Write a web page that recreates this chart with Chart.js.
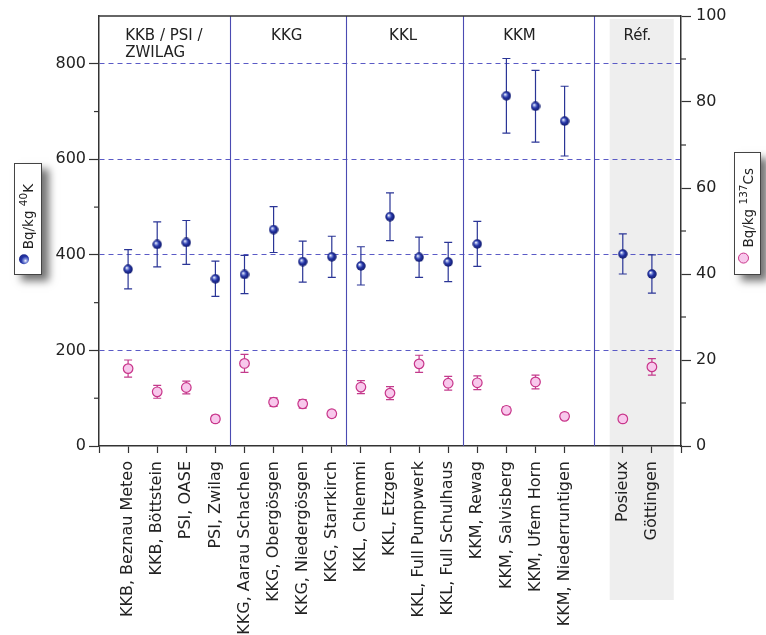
<!DOCTYPE html>
<html>
<head>
<meta charset="utf-8">
<script src="https://cdn.jsdelivr.net/npm/chart.js@4.4.1/dist/chart.umd.min.js"></script>
<style>
  html, body { margin: 0; padding: 0; background: #fff; }
  #wrap { position: relative; width: 766px; height: 635px; overflow: hidden; }
  #chart { position: absolute; left: 0; top: 0; }
  .key {
    position: absolute; background: #fff; border: 1px solid #444; box-sizing: border-box;
    box-shadow: 7px 6px 8px rgba(0,0,0,0.55);
    font-family: "DejaVu Sans", sans-serif; font-size: 13.5px; color: #222;
  }
  .key .t {
    position: absolute; left: 0; bottom: 10px; width: 100%; line-height: 26px;
    writing-mode: vertical-rl; transform: rotate(180deg); white-space: nowrap;
  }
  .key sup { font-size: 10.5px; vertical-align: super; line-height: 0; }
  .ball { display: inline-block; width: 10px; height: 10px; border-radius: 50%; vertical-align: middle;
    margin-inline-end: 5px;
    background: radial-gradient(circle at 35% 35%, #fff 0, #8a9ae0 18%, #2636a8 45%, #101a70 100%); }
  .ring { display: inline-block; width: 11px; height: 11px; border-radius: 50%; vertical-align: middle;
    margin-inline-end: 5px; box-sizing: border-box; background: #f8c8ec; border: 1.3px solid #c8358a; }
</style>
</head>
<body>
<div id="wrap">
  <canvas id="chart" width="766" height="635"></canvas>
  <div class="key" style="left:14px;top:163px;width:28px;height:112px;">
    <div class="t"><span class="ball"></span>Bq/kg <sup>40</sup>K</div>
  </div>
  <div class="key" style="left:734px;top:152px;width:27px;height:123px;">
    <div class="t"><span class="ring"></span>Bq/kg <sup>137</sup>Cs</div>
  </div>
</div>
<script>
// sampling sites, x position on the axis (17 left empty as gap before the reference sites)
const sites = [
  "KKB, Beznau Meteo", "KKB, Böttstein", "PSI, OASE", "PSI, Zwilag",
  "KKG, Aarau Schachen", "KKG, Obergösgen", "KKG, Niedergösgen", "KKG, Starrkirch",
  "KKL, Chlemmi", "KKL, Etzgen", "KKL, Full Pumpwerk", "KKL, Full Schulhaus",
  "KKM, Rewag", "KKM, Salvisberg", "KKM, Ufem Horn", "KKM, Niederruntigen",
  "Posieux", "Göttingen"
];
const sitePos = [1, 2, 3, 4, 5, 6, 7, 8, 9, 10, 11, 12, 13, 14, 15, 16, 18, 19];

// 40K, Bq/kg (left axis)
const k40 =    [370, 422, 426, 350, 359, 453, 386, 396, 377, 480, 395, 385, 423, 733, 711, 680, 402, 360];
const k40Err = [ 41,  47,  46,  37,  40,  48,  43,  43,  40,  50,  42,  41,  47,  78,  75,  73,  42,  40];

// 137Cs, Bq/kg (right axis)
const cs137 =    [18.0, 12.6, 13.6, 6.3, 19.2, 10.2, 9.8, 7.5, 13.7, 12.3, 19.1, 14.6, 14.7, 8.3, 14.9, 6.9, 6.3, 18.4];
const cs137Err = [ 2.0,  1.5,  1.5, 0.8,  2.1,  1.0, 1.0, 0.8,  1.5,  1.5,  2.0,  1.6,  1.6, 0.8,  1.6, 0.7, 0.7,  1.9];

// axes
const xTicks = [0, 1, 2, 3, 4, 5, 6, 7, 8, 9, 10, 11, 12, 13, 14, 15, 16, 18, 19, 20];
const k40Ticks = [0, 200, 400, 600, 800];
const k40Minor = [100, 300, 500, 700];
const csTicks = [0, 20, 40, 60, 80, 100];
const csMinor = [10, 30, 50, 70, 90];

// groups along the top
const groupNames = [["KKB / PSI /", "ZWILAG"], ["KKG"], ["KKL"], ["KKM"], ["Réf."]];
const groupAt = [0.9, 6.45, 10.45, 14.45, 18.5];
const dividers = [4.5, 8.5, 12.5, 17];
const refBand = [17.55, 19.75];

const FONT = "DejaVu Sans";
const labelFor = {};
sitePos.forEach((p, i) => labelFor[p] = sites[i]);

// shaded blue ball used as point style
function makeBall(d) {
  const c = document.createElement("canvas");
  c.width = d; c.height = d;
  const g = c.getContext("2d");
  const r = d / 2;
  const grad = g.createRadialGradient(r * 0.7, r * 0.7, 0.3, r, r, r);
  grad.addColorStop(0, "#ffffff");
  grad.addColorStop(0.22, "#8494dc");
  grad.addColorStop(0.5, "#2535a6");
  grad.addColorStop(1, "#0e1766");
  g.fillStyle = grad;
  g.beginPath(); g.arc(r, r, r - 0.3, 0, Math.PI * 2); g.fill();
  return c;
}

const decor = {
  id: "decor",
  beforeDraw(chart) {
    const { ctx, chartArea: a, scales: { x } } = chart;
    ctx.save();
    ctx.fillStyle = "#eeeeee";
    const x1 = x.getPixelForValue(refBand[0]), x2 = x.getPixelForValue(refBand[1]);
    ctx.fillRect(x1, a.top + 3, x2 - x1, 600 - a.top - 3);
    ctx.restore();
  },
  beforeDatasetsDraw(chart) {
    const { ctx, chartArea: a, scales: { x, y, y2 } } = chart;
    ctx.save();
    // group dividers
    ctx.strokeStyle = "#4b4bb2";
    ctx.lineWidth = 1.1;
    dividers.forEach(d => {
      const px = Math.round(x.getPixelForValue(d)) + 0.5;
      ctx.beginPath(); ctx.moveTo(px, a.top); ctx.lineTo(px, a.bottom); ctx.stroke();
    });
    // error bars
    const bars = (vals, errs, scale, color) => {
      ctx.strokeStyle = color;
      ctx.lineWidth = 1.2;
      vals.forEach((v, i) => {
        const px = x.getPixelForValue(sitePos[i]);
        const top = scale.getPixelForValue(v + errs[i]);
        const bot = scale.getPixelForValue(v - errs[i]);
        ctx.beginPath();
        ctx.moveTo(px, top); ctx.lineTo(px, bot);
        ctx.moveTo(px - 4, top); ctx.lineTo(px + 4, top);
        ctx.moveTo(px - 4, bot); ctx.lineTo(px + 4, bot);
        ctx.stroke();
      });
    };
    bars(k40, k40Err, y, "#2a3596");
    bars(cs137, cs137Err, y2, "#c33a8c");
    ctx.restore();
  },
  afterDraw(chart) {
    const { ctx, chartArea: a, scales: { x, y, y2 } } = chart;
    ctx.save();
    // top frame line
    ctx.strokeStyle = "#333";
    ctx.lineWidth = 1.5;
    ctx.beginPath(); ctx.moveTo(a.left, a.top); ctx.lineTo(a.right, a.top); ctx.stroke();
    // minor ticks
    ctx.lineWidth = 1.2;
    k40Minor.forEach(v => {
      const py = y.getPixelForValue(v);
      ctx.beginPath(); ctx.moveTo(a.left - 5, py); ctx.lineTo(a.left, py); ctx.stroke();
    });
    csMinor.forEach(v => {
      const py = y2.getPixelForValue(v);
      ctx.beginPath(); ctx.moveTo(a.right, py); ctx.lineTo(a.right + 5, py); ctx.stroke();
    });
    // group names
    ctx.fillStyle = "#222";
    ctx.font = "15px '" + FONT + "'";
    ctx.textBaseline = "middle";
    groupNames.forEach((lines, i) => {
      ctx.textAlign = i === 0 ? "left" : "center";
      const px = x.getPixelForValue(groupAt[i]);
      lines.forEach((s, j) => ctx.fillText(s, px, a.top + 20 + j * 17));
    });
    ctx.restore();
  }
};

new Chart(document.getElementById("chart"), {
  type: "scatter",
  data: {
    datasets: [
      {
        label: "Bq/kg 40K",
        data: sitePos.map((p, i) => ({ x: p, y: k40[i] })),
        yAxisID: "y",
        pointStyle: makeBall(10),
        pointRadius: 5
      },
      {
        label: "Bq/kg 137Cs",
        data: sitePos.map((p, i) => ({ x: p, y: cs137[i] })),
        yAxisID: "y2",
        pointStyle: "circle",
        pointRadius: 4.8,
        backgroundColor: "#f8c8ec",
        borderColor: "#c8358a",
        borderWidth: 1.2
      }
    ]
  },
  options: {
    responsive: false,
    animation: false,
    layout: { padding: { top: 16, left: 0, right: 0, bottom: 0 } },
    plugins: { legend: { display: false }, tooltip: { enabled: false } },
    scales: {
      x: {
        type: "linear", min: 0, max: 20,
        afterBuildTicks: s => { s.ticks = xTicks.map(v => ({ value: v })); },
        afterFit: s => { s.height = 189; },
        ticks: {
          autoSkip: false, maxRotation: 90, minRotation: 90, padding: 8,
          color: "#222", font: { family: FONT, size: 16 },
          callback: v => labelFor[v] || ""
        },
        grid: { drawOnChartArea: false, tickLength: 7, tickColor: "#333", tickWidth: 1.2 },
        border: { color: "#333", width: 1.5 }
      },
      y: {
        position: "left", min: 0, max: 900,
        afterBuildTicks: s => { s.ticks = k40Ticks.map(v => ({ value: v })); },
        afterFit: s => { s.width = 99; },
        ticks: { padding: 3, color: "#222", font: { family: FONT, size: 16 } },
        grid: {
          color: c => (c.tick && c.tick.value > 0) ? "#5a5ac6" : "rgba(0,0,0,0)",
          lineWidth: 1, tickLength: 10, tickColor: "#333", tickWidth: 1.2, tickBorderDash: []
        },
        border: { color: "#333", width: 1.5, dash: [5, 4] }
      },
      y2: {
        position: "right", min: 0, max: 100,
        afterBuildTicks: s => { s.ticks = csTicks.map(v => ({ value: v })); },
        afterFit: s => { s.width = 85; },
        ticks: { padding: 5, color: "#222", font: { family: FONT, size: 16 } },
        grid: { drawOnChartArea: false, tickLength: 10, tickColor: "#333", tickWidth: 1.2 },
        border: { color: "#333", width: 1.5 }
      }
    }
  },
  plugins: [decor]
});
</script>
</body>
</html>
